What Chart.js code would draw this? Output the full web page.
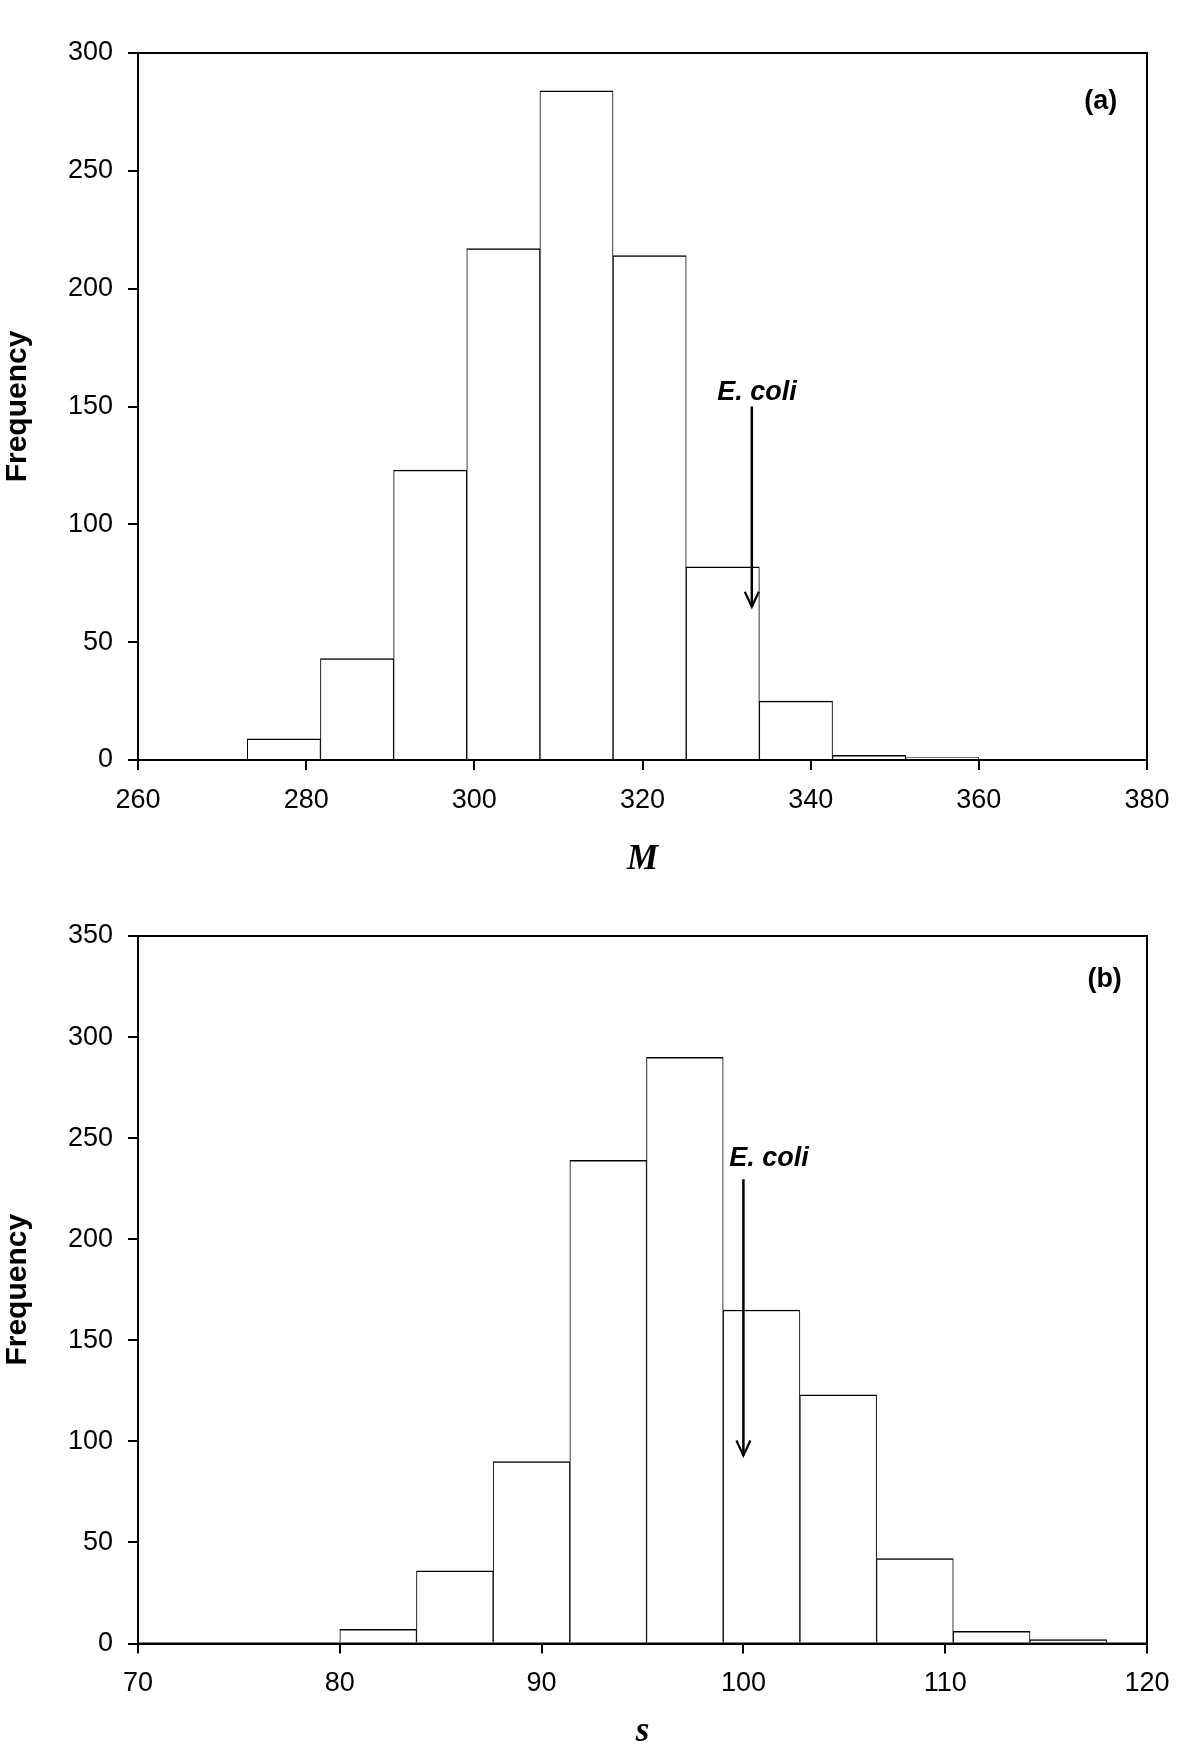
<!DOCTYPE html>
<html><head><meta charset="utf-8">
<script src="https://cdn.jsdelivr.net/npm/chart.js@4/dist/chart.umd.min.js"></script>
<style>
html,body{margin:0;padding:0;background:#fff;}
#wrapA{position:absolute;left:0;top:0;width:1200px;height:880px;}
#wrapB{position:absolute;left:0;top:880px;width:1200px;height:873px;}
canvas{display:block;}
</style></head><body>
<div id="wrapA"><canvas id="chartA" width="1200" height="880"></canvas></div>
<div id="wrapB"><canvas id="chartB" width="1200" height="873"></canvas></div>
<script>
// ---------- Panel (a): distribution of M ----------
const binEdgesM = [273.0, 281.7, 290.4, 299.1, 307.8, 316.5, 325.2, 333.9, 342.6, 351.3, 360.0];
const countsM   = [9, 43, 123, 217, 284, 214, 82, 25, 2, 1];
const xTicksM   = [260, 280, 300, 320, 340, 360, 380];
const yTicksM   = [0, 50, 100, 150, 200, 250, 300];
const ecoliM    = { value: 333.0, arrowTop: 150, arrowTip: 65, labelX: 328.9, labelY: 152.9 };

// ---------- Panel (b): distribution of s ----------
const binEdgesS = [80.0, 83.8, 87.6, 91.4, 95.2, 99.0, 102.8, 106.6, 110.4, 114.2, 118.0];
const countsS   = [7, 36, 90, 239, 290, 165, 123, 42, 6, 2];
const xTicksS   = [70, 80, 90, 100, 110, 120];
const yTicksS   = [0, 50, 100, 150, 200, 250, 300, 350];
const ecoliS    = { value: 100.0, arrowTop: 229.7, arrowTip: 93, labelX: 99.3, labelY: 236.0 };

const SANS = '"Liberation Sans", Arial, Helvetica, sans-serif';
const SERIF = '"Liberation Serif", "Times New Roman", serif';

function toPoints(edges, counts) {
  return counts.map((c, i) => ({ x: (edges[i] + edges[i + 1]) / 2, y: c }));
}

function markerPlugin(marker, panelLabel, panelPos) {
  return {
    id: 'marker',
    afterDatasetsDraw(chart) {
      const { ctx, chartArea: a, scales: { x, y } } = chart;
      ctx.save();
      // frame
      ctx.strokeStyle = '#000';
      ctx.lineWidth = 2;
      ctx.strokeRect(a.left, a.top, a.right - a.left, a.bottom - a.top);
      // arrow
      const px = x.getPixelForValue(marker.value);
      const pTop = y.getPixelForValue(marker.arrowTop);
      const pTip = y.getPixelForValue(marker.arrowTip);
      ctx.lineWidth = 2.5;
      ctx.beginPath();
      ctx.moveTo(px, pTop);
      ctx.lineTo(px, pTip);
      ctx.stroke();
      ctx.lineWidth = 2.2;
      ctx.beginPath();
      ctx.moveTo(px - 7, pTip - 15);
      ctx.lineTo(px, pTip);
      ctx.lineTo(px + 7, pTip - 15);
      ctx.stroke();
      // label
      ctx.fillStyle = '#000';
      ctx.font = 'italic bold 27px ' + SANS;
      ctx.textAlign = 'left';
      ctx.textBaseline = 'alphabetic';
      ctx.fillText('E. coli', x.getPixelForValue(marker.labelX), y.getPixelForValue(marker.labelY));
      // panel label
      ctx.font = 'bold 27px ' + SANS;
      ctx.textAlign = 'center';
      ctx.textBaseline = 'middle';
      ctx.fillText(panelLabel, x.getPixelForValue(panelPos.x), y.getPixelForValue(panelPos.y));
      ctx.restore();
    }
  };
}

function makeChart(id, edges, counts, xTicks, yTicks, xTitle, padTop, xAxisHeight, xTitlePad, marker, panelLabel, panelPos) {
  const tickFont = { family: SANS, size: 27 };
  return new Chart(document.getElementById(id), {
    type: 'bar',
    data: {
      datasets: [{
        data: toPoints(edges, counts),
        backgroundColor: '#ffffff',
        borderColor: '#000000',
        borderWidth: { top: 1.5, left: 1, right: 1, bottom: 0 },
        borderSkipped: false,
        barPercentage: 1,
        categoryPercentage: 1
      }]
    },
    options: {
      responsive: false,
      animation: false,
      devicePixelRatio: 1,
      layout: { padding: { left: 0, right: 53, top: padTop, bottom: 0 } },
      plugins: { legend: { display: false }, tooltip: { enabled: false } },
      scales: {
        x: {
          type: 'linear',
          min: xTicks[0],
          max: xTicks[xTicks.length - 1],
          offset: false,
          afterBuildTicks: s => { s.ticks = xTicks.map(v => ({ value: v })); },
          afterFit: s => { s.height = xAxisHeight; },
          grid: { display: true, offset: false, drawOnChartArea: false, drawTicks: true, tickLength: 10, color: '#000', lineWidth: 2 },
          border: { display: true, color: '#000', width: 2 },
          ticks: { font: tickFont, color: '#000', padding: 14, autoSkip: false, maxRotation: 0 },
          title: {
            display: true, text: xTitle, color: '#000',
            font: { family: SERIF, size: 35, weight: 'bold', style: 'italic', lineHeight: 1 },
            padding: { top: 0, bottom: xTitlePad }
          }
        },
        y: {
          type: 'linear',
          min: yTicks[0],
          max: yTicks[yTicks.length - 1],
          afterBuildTicks: s => { s.ticks = yTicks.map(v => ({ value: v })); },
          afterFit: s => { s.width = 138; },
          grid: { display: true, offset: false, drawOnChartArea: false, drawTicks: true, tickLength: 10, color: '#000', lineWidth: 2 },
          border: { display: true, color: '#000', width: 2 },
          ticks: { font: tickFont, color: '#000', padding: 15, autoSkip: false },
          title: {
            display: true, text: 'Frequency', color: '#000',
            font: { family: SANS, size: 30, weight: 'bold', lineHeight: 1 },
            padding: { top: 3, bottom: 0 }
          }
        }
      }
    },
    plugins: [markerPlugin(marker, panelLabel, panelPos)]
  });
}

makeChart('chartA', binEdgesM, countsM, xTicksM, yTicksM, 'M', 53, 120, 2.5, ecoliM, '(a)', { x: 374.5, y: 279.2 });
makeChart('chartB', binEdgesS, countsS, xTicksS, yTicksS, 's', 56, 109.5, 3.5, ecoliS, '(b)', { x: 117.9, y: 328.6 });
</script>
</body></html>
